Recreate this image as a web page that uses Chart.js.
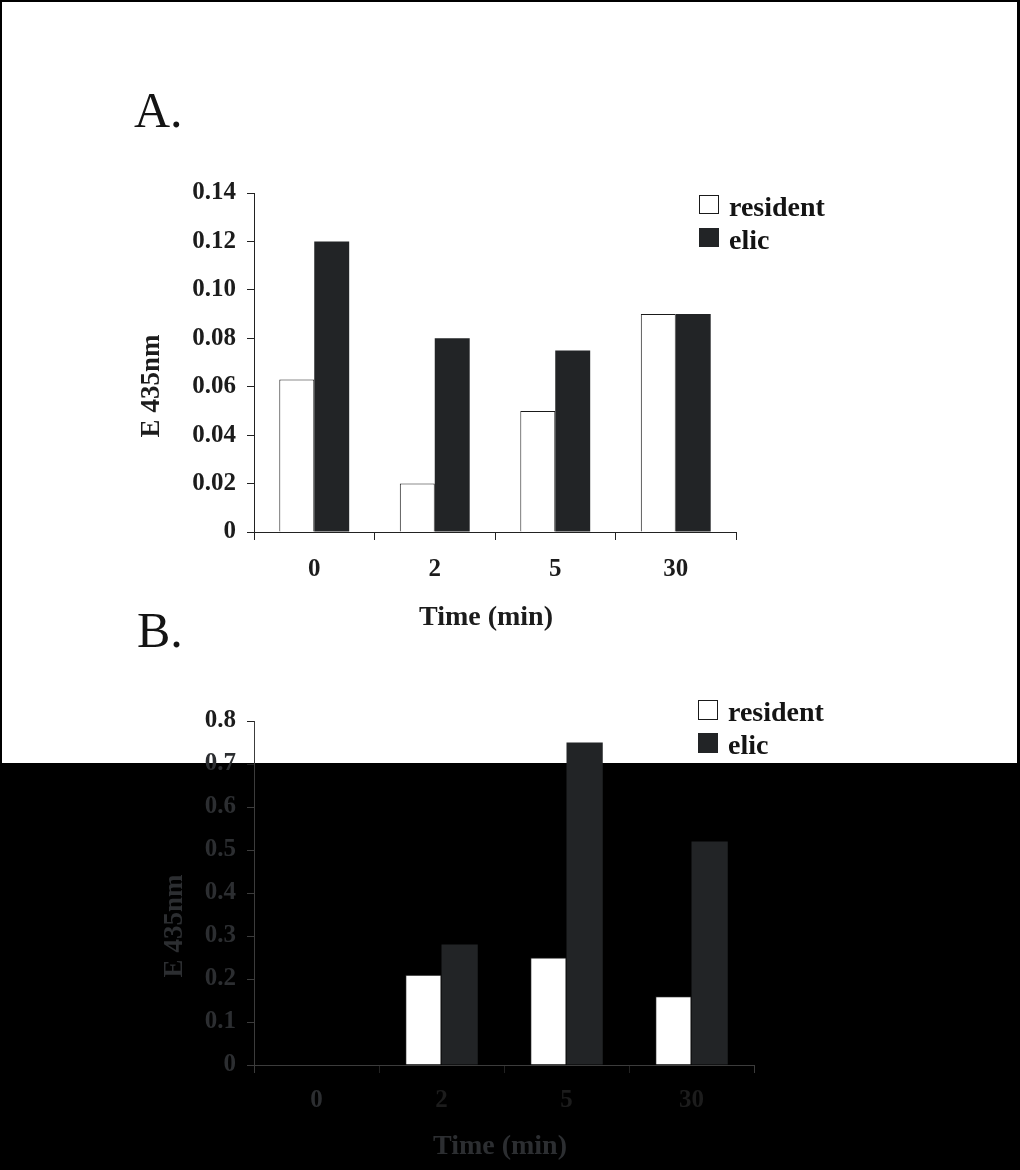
<!DOCTYPE html>
<html><head><meta charset="utf-8">
<script src="https://cdn.jsdelivr.net/npm/chart.js@4"></script>
<style>
html,body{margin:0;padding:0;background:#000;width:1020px;height:1170px;overflow:hidden}
#paper{position:absolute;left:2px;top:2px;width:1015px;height:761px;background:#fff}
canvas{position:absolute;left:0}
#ca{top:0}
#cb{top:590px}
</style></head><body>
<div id="paper"></div>
<canvas id="ca" width="1020" height="650"></canvas>
<canvas id="cb" width="1020" height="580"></canvas>
<script>
// ---- data ----
const categories = ['0', '2', '5', '30'];
const seriesNames = ['resident', 'elic'];
const residentA = [0.063, 0.02, 0.05, 0.09];
const elicA = [0.12, 0.08, 0.075, 0.09];
const residentB = [0, 0.21, 0.25, 0.16];
const elicB = [0, 0.28, 0.75, 0.52];
const yTicksA = ['0', '0.02', '0.04', '0.06', '0.08', '0.10', '0.12', '0.14'];
const yTicksB = ['0', '0.1', '0.2', '0.3', '0.4', '0.5', '0.6', '0.7', '0.8'];
const xTitle = 'Time (min)';
const yTitle = 'E 435nm';

Chart.defaults.font.family = '"Liberation Serif", "Times New Roman", serif';

const annot = {
  id: 'annot',
  afterDraw(chart, args, o) {
    const ctx = chart.ctx;
    ctx.save();
    ctx.fillStyle = o.color;
    ctx.font = o.letterFont;
    ctx.textAlign = 'left';
    ctx.textBaseline = 'alphabetic';
    ctx.fillText(o.letter, o.letterX, o.letterY);

    ctx.fillStyle = o.titleColor;
    ctx.font = o.xTitleFont;
    ctx.textAlign = 'center';
    ctx.textBaseline = 'middle';
    ctx.fillText(chart.options.scales.x.title.text, o.xTitleX, o.xTitleY);
    ctx.save();
    ctx.font = o.yTitleFont;
    ctx.translate(o.yTitleX, o.yTitleY);
    ctx.rotate(-Math.PI / 2);
    ctx.fillText(chart.options.scales.y.title.text, 0, 0);
    ctx.restore();

    // legend
    ctx.font = o.legendFont;
    ctx.textAlign = 'left';
    chart.data.datasets.forEach((ds, i) => {
      const bx = o.legendX, by = o.legendY + i * o.legendGap;
      ctx.fillStyle = ds.backgroundColor;
      ctx.fillRect(bx, by, o.boxW, o.boxH);
      if (ds.borderWidth > 0) {
        ctx.strokeStyle = ds.borderColor;
        ctx.lineWidth = 1;
        ctx.strokeRect(bx + 0.5, by + 0.5, o.boxW - 1, o.boxH - 1);
      }
      ctx.fillStyle = o.color;
      ctx.fillText(ds.label, bx + o.boxW + 10, by + o.boxH / 2 + 4);
    });
    ctx.restore();
  }
};

function makeChart(id, res, eli, yLabels, yMax, step, cfg) {
  return new Chart(document.getElementById(id), {
    type: 'bar',
    data: {
      labels: categories,
      datasets: [
        { label: seriesNames[0], data: res, backgroundColor: '#ffffff', borderColor: '#1a1a1a', borderWidth: 1,
          categoryPercentage: 0.58, barPercentage: 1.0 },
        { label: seriesNames[1], data: eli, backgroundColor: '#222426', borderColor: '#222426', borderWidth: 0,
          categoryPercentage: 0.58, barPercentage: 1.0 }
      ]
    },
    options: {
      responsive: false,
      animation: false,
      layout: { padding: cfg.padding },
      plugins: { legend: { display: false }, tooltip: { enabled: false }, title: { display: false },
        annot: cfg.annot },
      scales: {
        x: {
          grid: { offset: true, drawOnChartArea: false, tickLength: 8, color: cfg.gridColor, lineWidth: 1 },
          border: { color: cfg.borderColor, width: 1 },
          ticks: { color: cfg.tickColor, padding: cfg.xPad, font: { size: 25, weight: 'bold' } },
          title: { display: false, text: xTitle },
          afterFit: s => { s.height = 100; }
        },
        y: {
          min: 0, max: yMax,
          grid: { drawOnChartArea: false, tickLength: 7, color: cfg.gridColor, lineWidth: 1 },
          border: { color: cfg.borderColor, width: 1 },
          ticks: { stepSize: step, color: cfg.tickColor, padding: 11, font: { size: 25, weight: 'bold' },
            callback: (v, i) => yLabels[i] },
          title: { display: false, text: yTitle },
          afterFit: s => { s.width = 116; }
        }
      }
    },
    plugins: [annot]
  });
}

makeChart('ca', residentA, elicA, yTicksA, 0.14, 0.02, {
  padding: { left: 138, top: 193, right: 284, bottom: 18 },
  gridColor: '#222', borderColor: '#222', tickColor: '#1c1c1c', xPad: 15,
  annot: {
    color: '#141414', titleColor: '#1c1c1c',
    letter: 'A.', letterFont: 'normal 50px "Liberation Serif"', letterX: 134, letterY: 127,
    xTitleFont: 'bold 28px "Liberation Serif"', yTitleFont: 'bold 27px "Liberation Serif"',
    xTitleX: 486, xTitleY: 618, yTitleX: 152, yTitleY: 386,
    legendFont: 'bold 28px "Liberation Serif"', legendX: 699, legendY: 195, legendGap: 33, boxW: 20, boxH: 19
  }
});

makeChart('cb', residentB, elicB, yTicksB, 0.8, 0.1, {
  padding: { left: 138, top: 131, right: 266, bottom: 5 },
  gridColor: c => (c.tick && c.tick.value > 0.65 ? '#222' : '#3c3c3c'),
  borderColor: '#3c3c3c',
  tickColor: c => (c.tick && c.tick.value > 0.75 ? '#1c1c1c' : '#2c2e31'),
  xPad: 13,
  annot: {
    color: '#141414', titleColor: '#2c2e31',
    letter: 'B.', letterFont: 'normal 50px "Liberation Serif"', letterX: 137, letterY: 57,
    xTitleFont: 'bold 28px "Liberation Serif"', yTitleFont: 'bold 27px "Liberation Serif"',
    xTitleX: 500, xTitleY: 557, yTitleX: 175, yTitleY: 336,
    legendFont: 'bold 28px "Liberation Serif"', legendX: 698, legendY: 110, legendGap: 33, boxW: 20, boxH: 20
  }
});
</script>
</body></html>
